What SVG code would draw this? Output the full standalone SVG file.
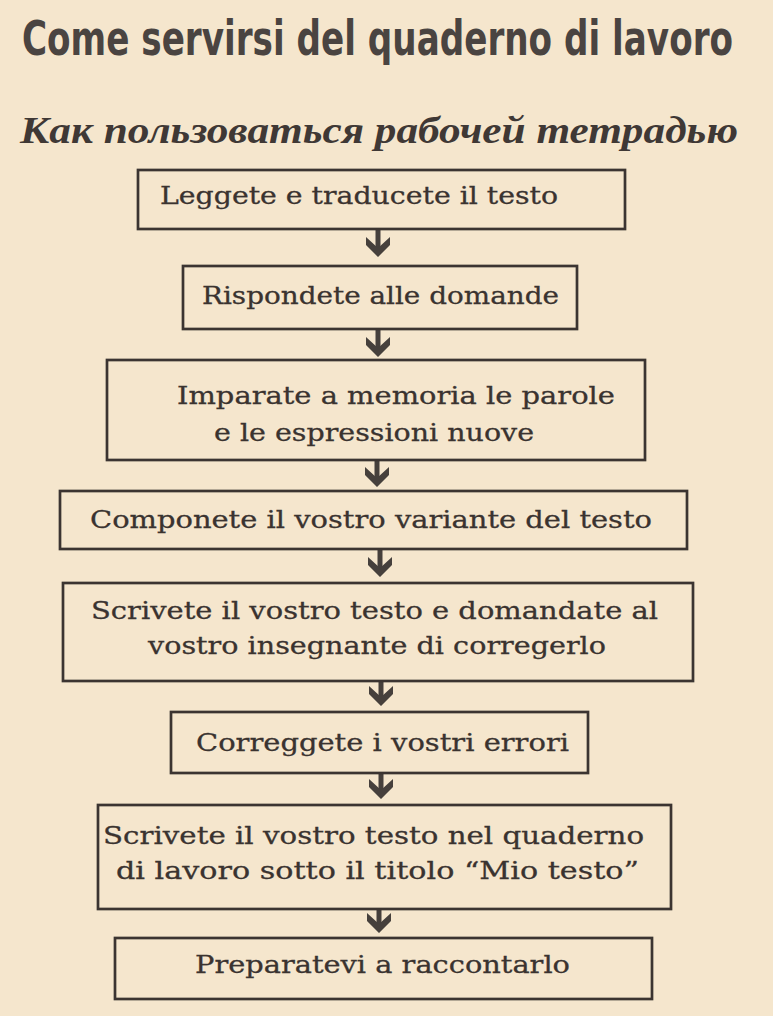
<svg xmlns="http://www.w3.org/2000/svg" xmlns:xlink="http://www.w3.org/1999/xlink" width="773" height="1016" viewBox="0 0 773 1016">
<style>
.bg{fill:#f5e6cd}
.box{fill:none;stroke:#3b3431;stroke-width:2.7}
.t{font-family:"DejaVu Serif","Liberation Serif",serif;font-size:25px;fill:#3a3330;stroke:#3a3330;stroke-width:0.3}
.title{font-family:"DejaVu Sans Condensed","DejaVu Sans",sans-serif;font-stretch:condensed;font-weight:bold;font-size:38px;fill:#4a4441}
.sub{font-family:"Liberation Serif","DejaVu Serif",serif;font-style:italic;font-weight:bold;font-size:38px;fill:#3f3835}
.shaft{stroke:#46403c;stroke-width:5}
.head{fill:#46403c}
</style>
<defs>
<polygon id="head" class="head" points="-12,-20 0,-9 12,-20 12,-12 0,0 -12,-12"/>
</defs>
<rect class="bg" x="0" y="0" width="773" height="1016"/>
<g id="title">
<text class="title" transform="translate(22,55) scale(1,1.24)" x="0" y="0" textLength="711" lengthAdjust="spacingAndGlyphs">Come servirsi del quaderno di lavoro</text>
</g>
<g id="subtitle">
<text class="sub" x="20" y="143" textLength="718" lengthAdjust="spacingAndGlyphs">Как пользоваться рабочей тетрадью</text>
</g>
<g id="connectors">
<line class="shaft" x1="378" y1="229" x2="378" y2="249"/><use xlink:href="#head" href="#head" x="378" y="257"/>
<line class="shaft" x1="378" y1="329" x2="378" y2="349"/><use xlink:href="#head" href="#head" x="378" y="357"/>
<line class="shaft" x1="377" y1="460" x2="377" y2="479"/><use xlink:href="#head" href="#head" x="377" y="487"/>
<line class="shaft" x1="380" y1="549" x2="380" y2="569"/><use xlink:href="#head" href="#head" x="380" y="577"/>
<line class="shaft" x1="381" y1="681" x2="381" y2="698"/><use xlink:href="#head" href="#head" x="381" y="706"/>
<line class="shaft" x1="381" y1="773" x2="381" y2="791"/><use xlink:href="#head" href="#head" x="381" y="799"/>
<line class="shaft" x1="379" y1="909" x2="379" y2="925"/><use xlink:href="#head" href="#head" x="379" y="933"/>
</g>
<g id="n1">
<rect class="box" x="138" y="170" width="487" height="59"/>
<text class="t" x="160" y="204" textLength="398" lengthAdjust="spacingAndGlyphs">Leggete e traducete il testo</text>
</g>
<g id="n2">
<rect class="box" x="183" y="266" width="394" height="63"/>
<text class="t" x="202" y="304" textLength="357" lengthAdjust="spacingAndGlyphs">Rispondete alle domande</text>
</g>
<g id="n3">
<rect class="box" x="107" y="360" width="538" height="100"/>
<text class="t" x="177" y="404" textLength="438" lengthAdjust="spacingAndGlyphs">Imparate a memoria le parole</text>
<text class="t" x="214" y="441" textLength="320" lengthAdjust="spacingAndGlyphs">e le espressioni nuove</text>
</g>
<g id="n4">
<rect class="box" x="60" y="491" width="627" height="58"/>
<text class="t" x="90" y="528" textLength="562" lengthAdjust="spacingAndGlyphs">Componete il vostro variante del testo</text>
</g>
<g id="n5">
<rect class="box" x="63" y="583" width="630" height="98"/>
<text class="t" x="91" y="619" textLength="567" lengthAdjust="spacingAndGlyphs">Scrivete il vostro testo e domandate al</text>
<text class="t" x="148" y="654" textLength="458" lengthAdjust="spacingAndGlyphs">vostro insegnante di corregerlo</text>
</g>
<g id="n6">
<rect class="box" x="171" y="712" width="417" height="61"/>
<text class="t" x="196" y="751" textLength="373" lengthAdjust="spacingAndGlyphs">Correggete i vostri errori</text>
</g>
<g id="n7">
<rect class="box" x="98" y="805" width="573" height="104"/>
<text class="t" x="103" y="844" textLength="541" lengthAdjust="spacingAndGlyphs">Scrivete il vostro testo nel quaderno</text>
<text class="t" x="116" y="879" textLength="523" lengthAdjust="spacingAndGlyphs">di lavoro sotto il titolo “Mio testo”</text>
</g>
<g id="n8">
<rect class="box" x="115" y="938" width="537" height="61"/>
<text class="t" x="195" y="973" textLength="375" lengthAdjust="spacingAndGlyphs">Preparatevi a raccontarlo</text>
</g>
</svg>
